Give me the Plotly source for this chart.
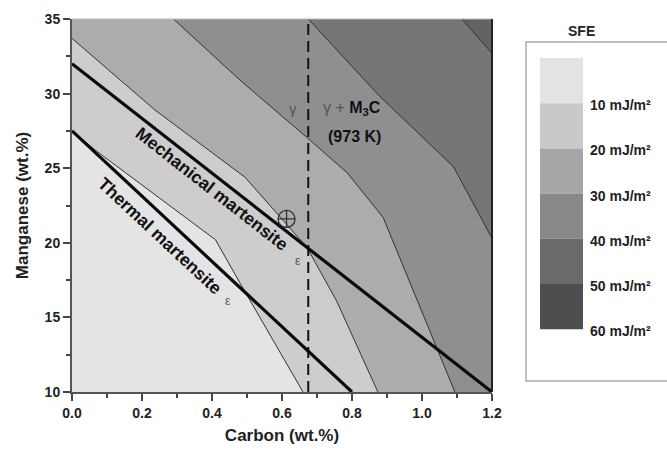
import plotly.graph_objects as go

# ---------------- data ----------------
carbon_range = [0.0, 1.2]
mn_range = [10, 35]

# iso-SFE contour lines (carbon wt.%, manganese wt.%)
sfe10_c = [0.0, 0.067, 0.41, 0.48, 0.66]
sfe10_mn = [27.5, 26.2, 20.2, 17.3, 10.0]
sfe20_c = [0.0, 0.237, 0.494, 0.671, 0.756, 0.874]
sfe20_mn = [33.7, 28.9, 24.4, 19.7, 16.1, 10.0]
sfe30_c = [0.29, 0.48, 0.674, 0.786, 0.889, 1.094]
sfe30_mn = [35.0, 30.9, 27.0, 24.7, 21.7, 10.0]
sfe40_c = [0.675, 0.88, 1.09, 1.2]
sfe40_mn = [35.0, 29.8, 25.1, 20.3]
sfe50_c = [1.114, 1.2]
sfe50_mn = [35.0, 32.7]

thermal_c = [0.0, 0.8]
thermal_mn = [27.5, 10.0]
mechanical_c = [0.0, 1.2]
mechanical_mn = [32.0, 10.0]
m3c_boundary_c = 0.675

marker_c = [0.613]
marker_mn = [21.6]

region_colors = ["#e4e4e4", "#cdcdcd", "#acacac", "#8f8f8f", "#767676", "#636363"]
legend_colors = ["#e3e3e3", "#c9c9c9", "#a6a6a6", "#888888", "#6a6a6a", "#4e4e4e"]
legend_labels = ["10 mJ/m²", "20 mJ/m²", "30 mJ/m²", "40 mJ/m²", "50 mJ/m²", "60 mJ/m²"]

FONT = "Liberation Sans, Arial, sans-serif"

xmin, xmax = carbon_range
ymin, ymax = mn_range


def close_poly(xs, ys):
    px, py = list(xs), list(ys)
    if py[-1] == ymin:
        px.append(xmax); py.append(ymin)
    px.append(xmax); py.append(ymax)
    if px[0] == xmin:
        px.append(xmin); py.append(ymax)
    return px, py


fig = go.Figure()

contours = [(sfe10_c, sfe10_mn), (sfe20_c, sfe20_mn), (sfe30_c, sfe30_mn),
            (sfe40_c, sfe40_mn), (sfe50_c, sfe50_mn)]

for i, (cx, cy) in enumerate(contours):
    px, py = close_poly(cx, cy)
    fig.add_trace(go.Scatter(x=px, y=py, mode="lines", fill="toself",
                             fillcolor=region_colors[i + 1], line=dict(width=0),
                             hoverinfo="skip", showlegend=False))

for cx, cy in contours:
    fig.add_trace(go.Scatter(x=cx, y=cy, mode="lines",
                             line=dict(color="#333333", width=1),
                             hoverinfo="skip", showlegend=False))

fig.add_trace(go.Scatter(x=[m3c_boundary_c, m3c_boundary_c], y=mn_range, mode="lines",
                         line=dict(color="#111111", width=2, dash="11px,6px"),
                         showlegend=False))
fig.add_trace(go.Scatter(x=thermal_c, y=thermal_mn, mode="lines",
                         line=dict(color="#0a0a0a", width=3.2), showlegend=False))
fig.add_trace(go.Scatter(x=mechanical_c, y=mechanical_mn, mode="lines",
                         line=dict(color="#0a0a0a", width=3.2), showlegend=False))
fig.add_trace(go.Scatter(x=marker_c, y=marker_mn, mode="markers",
                         marker=dict(symbol="circle-cross-open", size=17,
                                     color="#333333", line=dict(width=1.3, color="#333333")),
                         showlegend=False))

# ---------------- in-plot labels ----------------
bold = dict(family=FONT, size=17.5, color="#111111", weight="bold")
anns = [
    dict(x=0.40, y=23.6, text="Mechanical martensite", textangle=38, font=bold),
    dict(x=0.645, y=18.8, text="ε",
         font=dict(family=FONT, size=12, color="#555555")),
    dict(x=0.251, y=20.44, text="Thermal martensite", textangle=43, font=bold),
    dict(x=0.445, y=16.1, text="ε",
         font=dict(family=FONT, size=12, color="#555555")),
    dict(x=0.631, y=29.03, text="γ",
         font=dict(family=FONT, size=15, color="#555555")),
    dict(x=0.80, y=29.03,
         text="<span style='font-weight:normal;color:#555555'>γ + </span>M<sub>3</sub>C",
         font=dict(family=FONT, size=16, color="#111111", weight="bold")),
    dict(x=0.806, y=27.1, text="(973 K)",
         font=dict(family=FONT, size=16, color="#111111", weight="bold")),
]
for a in anns:
    a.update(xref="x", yref="y", showarrow=False)

# ---------------- legend (drawn in paper coordinates) ----------------
L, T, W, H = 72, 19, 420, 373


def pxx(p):
    return (p - L) / W


def pxy(p):
    return (T + H - p) / H


shapes = [
    dict(type="line", xref="paper", yref="paper", x0=0, x1=1, y0=1, y1=1,
         line=dict(color="#bbbbbb", width=1)),
    dict(type="line", xref="paper", yref="paper", x0=1, x1=1, y0=0, y1=1,
         line=dict(color="#222222", width=2)),
    dict(type="rect", xref="paper", yref="paper", x0=pxx(526), x1=pxx(720),
         y0=pxy(381), y1=pxy(42), line=dict(color="#aaaaaa", width=1.5),
         fillcolor="white", layer="below"),
]
step = 45.2
top0 = 58
for i, col in enumerate(legend_colors):
    shapes.append(dict(type="rect", xref="paper", yref="paper",
                       x0=pxx(540), x1=pxx(583),
                       y0=pxy(top0 + step * (i + 1)), y1=pxy(top0 + step * i),
                       line=dict(width=0), fillcolor=col))
for i, lab in enumerate(legend_labels):
    anns.append(dict(xref="paper", yref="paper", x=pxx(588),
                     y=pxy(top0 + step * (i + 1) + 2), text=lab, showarrow=False,
                     xanchor="left", yanchor="middle",
                     font=dict(family=FONT, size=14, color="#222222", weight="bold")))
anns.append(dict(xref="paper", yref="paper", x=pxx(581), y=pxy(31), text="SFE",
                 showarrow=False, xanchor="center", yanchor="middle",
                 font=dict(family=FONT, size=14, color="#222222", weight="bold")))

axis_common = dict(showgrid=False, zeroline=False, showline=True, linecolor="#555555",
                   linewidth=2, ticks="outside", ticklen=7, tickwidth=1.5,
                   tickcolor="#444444", automargin=False,
                   tickfont=dict(family=FONT, size=14, color="#222222", weight="bold"))

fig.update_layout(
    template="none",
    width=667, height=452,
    margin=dict(l=L, r=667 - L - W, t=T, b=452 - T - H),
    paper_bgcolor="white",
    plot_bgcolor=region_colors[0],
    showlegend=False,
    shapes=shapes,
    annotations=anns,
    xaxis=dict(range=carbon_range, dtick=0.2, tick0=0, tickformat=".1f",
               minor=dict(dtick=0.1, ticklen=4, tickcolor="#444444", ticks="outside"),
               title=dict(text="Carbon (wt.%)", standoff=9,
                          font=dict(family=FONT, size=17, color="#222222", weight="bold")),
               **axis_common),
    yaxis=dict(range=mn_range, dtick=5, tick0=10,
               minor=dict(dtick=2.5, ticklen=4, tickcolor="#444444", ticks="outside"),
               title=dict(text="Manganese (wt.%)", standoff=12,
                          font=dict(family=FONT, size=17, color="#222222", weight="bold")),
               **axis_common),
)

fig.write_html("out.html", config={"displayModeBar": False},
               post_script="document.body.style.margin='0';document.body.style.overflow='hidden';")
